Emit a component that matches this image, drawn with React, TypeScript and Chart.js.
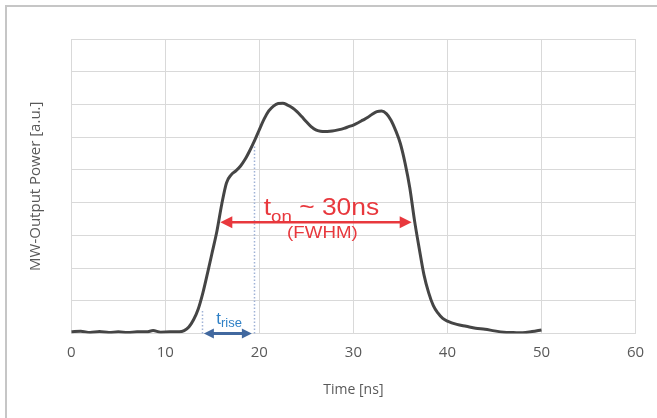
import React, { useEffect, useRef } from "react";
import { Chart, registerables } from "chart.js";

Chart.register(...registerables);

// ---- data ----
const timeNs = [
  0, 1, 2, 3, 4, 5, 6, 7, 8, 8.7, 9.5, 10.5, 11.5, 12, 12.5, 13, 13.5, 14, 14.5, 15,
  15.5, 16, 16.5, 17, 17.5, 18, 18.5, 19, 19.5, 20, 20.5, 21, 21.5, 22, 22.5, 23, 23.5,
  24, 24.5, 25, 25.5, 26, 26.5, 27, 27.5, 28, 28.5, 29, 29.5, 30, 30.5, 31, 31.5, 32,
  32.5, 33, 33.5, 34, 34.5, 35, 35.5, 36, 36.5, 37, 37.5, 38, 38.5, 39, 39.5, 40, 41,
  42, 43, 44, 45, 46, 47, 48, 49, 50,
];
const power = [
  0.05, 0.07, 0.03, 0.06, 0.03, 0.05, 0.03, 0.05, 0.05, 0.09, 0.04, 0.05, 0.05, 0.09,
  0.2, 0.42, 0.75, 1.25, 1.86, 2.5, 3.15, 3.95, 4.6, 4.85, 4.97, 5.12, 5.33, 5.6, 5.9,
  6.23, 6.55, 6.8, 6.95, 7.03, 7.04, 6.98, 6.9, 6.78, 6.63, 6.47, 6.32, 6.22, 6.18,
  6.17, 6.18, 6.2, 6.23, 6.27, 6.32, 6.37, 6.44, 6.52, 6.6, 6.7, 6.78, 6.8, 6.72, 6.52,
  6.2, 5.8, 5.2, 4.45, 3.45, 2.6, 1.8, 1.25, 0.85, 0.62, 0.46, 0.38, 0.28, 0.22, 0.16,
  0.13, 0.08, 0.04, 0.03, 0.02, 0.06, 0.11,
];
const xTickValues = [0, 10, 20, 30, 40, 50, 60];
const yGridMax = 9;

// annotation anchors (data units)
const fwhmStart = 15.85;
const fwhmEnd = 36.2;
const fwhmLevel = 3.4;
const fwhmLabelCenter = 26.6;
const riseMarkers = [
  { t: 13.9, level: 0.75 },
  { t: 19.4, level: 5.75 },
];
const riseArrowStart = 14.1;
const riseArrowEnd = 19.2;
const riseLabelCenter = 16.78;

const TEXT_GRAY = "#595959";
const GRID = "#d9d9d9";

function drawArrow(
  ctx: CanvasRenderingContext2D,
  x0: number,
  x1: number,
  y: number,
  color: string,
  lw: number,
  headLen: number,
  headHalf: number
) {
  ctx.save();
  ctx.strokeStyle = color;
  ctx.fillStyle = color;
  ctx.lineWidth = lw;
  ctx.beginPath();
  ctx.moveTo(x0 + headLen - 1, y);
  ctx.lineTo(x1 - headLen + 1, y);
  ctx.stroke();
  ctx.beginPath();
  ctx.moveTo(x0, y);
  ctx.lineTo(x0 + headLen, y - headHalf);
  ctx.lineTo(x0 + headLen, y + headHalf);
  ctx.closePath();
  ctx.fill();
  ctx.beginPath();
  ctx.moveTo(x1, y);
  ctx.lineTo(x1 - headLen, y - headHalf);
  ctx.lineTo(x1 - headLen, y + headHalf);
  ctx.closePath();
  ctx.fill();
  ctx.restore();
}

type Piece = { text: string; font: string; dy: number };

function drawPieces(
  ctx: CanvasRenderingContext2D,
  pieces: Piece[],
  cx: number,
  baseY: number,
  color: string,
  sx: number
) {
  ctx.save();
  ctx.fillStyle = color;
  ctx.textBaseline = "alphabetic";
  ctx.textAlign = "left";
  const widths = pieces.map((p) => {
    ctx.font = p.font;
    return ctx.measureText(p.text).width * sx;
  });
  const total = widths.reduce((a, b) => a + b, 0);
  let x = cx - total / 2;
  pieces.forEach((p, i) => {
    ctx.save();
    ctx.font = p.font;
    ctx.translate(x, baseY + p.dy);
    ctx.scale(sx, 1);
    ctx.fillText(p.text, 0, 0);
    ctx.restore();
    x += widths[i];
  });
  ctx.restore();
}

const annotationPlugin = {
  id: "pulseAnnotations",
  afterDatasetsDraw(chart: any) {
    const ctx: CanvasRenderingContext2D = chart.ctx;
    const xs = chart.scales.x;
    const ys = chart.scales.y;
    const y0 = ys.getPixelForValue(0);
    ctx.save();
    // dotted rise markers
    ctx.strokeStyle = "#9fb2d6";
    ctx.lineWidth = 1.5;
    ctx.setLineDash([1.5, 2]);
    riseMarkers.forEach((m) => {
      const px = Math.round(xs.getPixelForValue(m.t)) + 0.5;
      ctx.beginPath();
      ctx.moveTo(px, y0);
      ctx.lineTo(px, ys.getPixelForValue(m.level));
      ctx.stroke();
    });
    ctx.setLineDash([]);
    ctx.restore();

    // t_rise arrow
    drawArrow(
      ctx,
      xs.getPixelForValue(riseArrowStart),
      xs.getPixelForValue(riseArrowEnd),
      y0,
      "#41689f",
      3,
      10,
      5
    );
    // FWHM arrow
    const fy = ys.getPixelForValue(fwhmLevel);
    drawArrow(
      ctx,
      xs.getPixelForValue(fwhmStart),
      xs.getPixelForValue(fwhmEnd),
      fy,
      "#e8383d",
      2.5,
      12,
      6
    );

    const sans = "'Liberation Sans', Arial, sans-serif";
    const red = "#e8383d";
    const fcx = xs.getPixelForValue(fwhmLabelCenter);
    drawPieces(
      ctx,
      [
        { text: "t", font: `24px ${sans}`, dy: 0 },
        { text: "on", font: `17px ${sans}`, dy: 6.5 },
        { text: " ~ 30ns", font: `24px ${sans}`, dy: 0 },
      ],
      fcx,
      fy - 7,
      red,
      1.1
    );
    drawPieces(ctx, [{ text: "(FWHM)", font: `17px ${sans}`, dy: 0 }], fcx + 1, fy + 16, red, 1.1);

    const rcx = xs.getPixelForValue(riseLabelCenter);
    drawPieces(
      ctx,
      [
        { text: "t", font: `17px ${sans}`, dy: 0 },
        { text: "rise", font: `13px ${sans}`, dy: 3.5 },
      ],
      rcx,
      y0 - 10,
      "#2f80c6",
      1.0
    );
  },
};

export default function App() {
  const canvasRef = useRef<HTMLCanvasElement | null>(null);

  useEffect(() => {
    document.body.style.margin = "0";
    const canvas = canvasRef.current;
    if (!canvas) return;
    const points = timeNs.map((t, i) => ({ x: t, y: power[i] }));
    const chart = new Chart(canvas, {
      type: "line",
      data: {
        datasets: [
          {
            data: points,
            borderColor: "#454545",
            borderWidth: 3,
            pointRadius: 0,
            fill: false,
            cubicInterpolationMode: "monotone",
          },
        ],
      },
      options: {
        animation: false,
        responsive: false,
        maintainAspectRatio: false,
        layout: { padding: { top: 39, right: 21.5, bottom: 15.6, left: 20 } },
        plugins: {
          legend: { display: false },
          tooltip: { enabled: false },
          title: { display: false },
        },
        scales: {
          x: {
            type: "linear",
            min: 0,
            max: 60,
            afterBuildTicks: (scale: any) => {
              scale.ticks = xTickValues.map((v) => ({ value: v }));
            },
            ticks: {
              color: TEXT_GRAY,
              padding: 10.5,
              maxRotation: 0,
              font: { family: "'Open Sans', sans-serif", size: 15 },
            },
            grid: { color: GRID, lineWidth: 1, drawTicks: false },
            border: { display: true, color: GRID, width: 1 },
            title: {
              display: true,
              text: "Time [ns]",
              color: TEXT_GRAY,
              font: { family: "'Open Sans', sans-serif", size: 14 },
              padding: { top: 9.1, bottom: 4 },
            },
          },
          y: {
            type: "linear",
            min: 0,
            max: yGridMax,
            ticks: { display: false, stepSize: 1 },
            grid: { color: GRID, lineWidth: 1, drawTicks: false },
            border: { display: true, color: GRID, width: 1 },
            title: {
              display: true,
              text: "MW-Output Power [a.u.]",
              color: TEXT_GRAY,
              font: { family: "'Open Sans', sans-serif", size: 15 },
              padding: { top: 6.5, bottom: 26.8 },
            },
          },
        },
      },
      plugins: [annotationPlugin],
    } as any);
    return () => chart.destroy();
  }, []);

  return (
    <div
      style={{
        position: "relative",
        width: 657,
        height: 418,
        overflow: "hidden",
        background: "#ffffff",
      }}
    >
      <canvas
        ref={canvasRef}
        width={657}
        height={418}
        style={{ position: "absolute", left: 0, top: 0, display: "block" }}
      />
      <div
        style={{
          position: "absolute",
          left: 5,
          top: 5,
          width: 700,
          height: 500,
          border: "2px solid #c6c6c6",
          pointerEvents: "none",
        }}
      />
    </div>
  );
}
